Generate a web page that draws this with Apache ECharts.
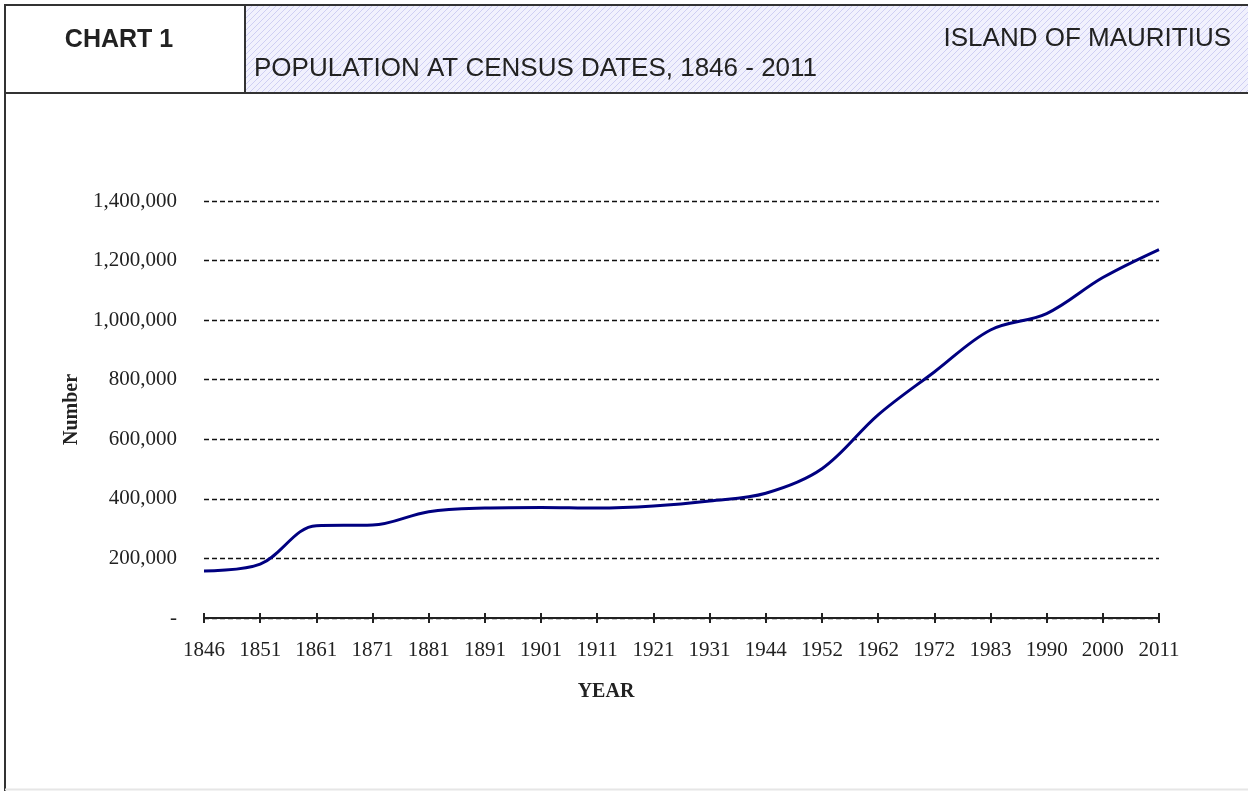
<!DOCTYPE html>
<html>
<head>
<meta charset="utf-8">
<script src="https://cdn.jsdelivr.net/npm/echarts@6/dist/echarts.min.js"></script>
<style>
  html, body { margin: 0; padding: 0; background: #fff; }
  #main { width: 1248px; height: 791px; }
</style>
</head>
<body>
<div id="main"></div>
<script>
// census years and population
var years = ['1846', '1851', '1861', '1871', '1881', '1891', '1901', '1911', '1921',
  '1931', '1944', '1952', '1962', '1972', '1983', '1990', '2000', '2011'];
var population = [158000, 181000, 310000, 312000, 357000, 369000, 371000, 369000, 376000,
  393000, 419000, 501000, 682000, 826000, 967000, 1022000, 1143000, 1237000];

// hatch pattern for the title cell
function makeHatch() {
  var c = document.createElement('canvas');
  c.width = 6; c.height = 6;
  var ctx = c.getContext('2d');
  ctx.fillStyle = '#f1f1fd';
  ctx.fillRect(0, 0, 6, 6);
  ctx.strokeStyle = '#cfcff3';
  ctx.lineWidth = 1;
  ctx.beginPath();
  ctx.moveTo(-1, 7); ctx.lineTo(7, -1);
  ctx.moveTo(-4, 4); ctx.lineTo(4, -4);
  ctx.moveTo(2, 10); ctx.lineTo(10, 2);
  ctx.stroke();
  return c;
}

var chart = echarts.init(document.getElementById('main'), null, { renderer: 'canvas' });

var serif = 'Liberation Serif';

var option = {
  backgroundColor: '#fff',
  animation: false,
  grid: { left: 204, right: 89, top: 201, bottom: 173 },
  xAxis: [{
    type: 'category',
    position: 'bottom',
    data: years,
    boundaryGap: false,
    axisLine: { lineStyle: { color: '#222', width: 2 } },
    axisTick: { show: true, length: 5, lineStyle: { color: '#222', width: 2 } },
    axisLabel: { margin: 22, fontFamily: serif, fontSize: 21, color: '#222' },
    splitLine: { show: false }
  }, {
    // second copy only for the ticks that cross above the axis line
    type: 'category',
    position: 'bottom',
    data: years,
    boundaryGap: false,
    axisLine: { show: false },
    axisTick: { show: true, inside: true, length: 5, lineStyle: { color: '#222', width: 2 } },
    axisLabel: { show: false },
    splitLine: { show: false }
  }],
  yAxis: {
    type: 'value',
    min: 0,
    max: 1400000,
    interval: 200000,
    name: 'Number',
    nameLocation: 'middle',
    nameGap: 122,
    nameRotate: 90,
    nameTextStyle: { fontFamily: serif, fontWeight: 'bold', fontSize: 20, color: '#222' },
    axisLine: { show: false },
    axisTick: { show: false },
    axisLabel: {
      margin: 27,
      fontFamily: serif,
      fontSize: 21,
      color: '#222',
      formatter: function (v) {
        return v === 0 ? '-' : v.toLocaleString('en-US');
      }
    },
    splitLine: { lineStyle: { color: '#111', type: [5, 3], width: 1.3 } }
  },
  series: [{
    type: 'line',
    data: population,
    smooth: 0.35,
    symbol: 'none',
    lineStyle: { color: '#000080', width: 3 }
  }],
  graphic: [
    { type: 'rect', shape: { x: 245, y: 5, width: 1010, height: 88 }, style: { fill: { image: makeHatch(), repeat: 'repeat' } }, z: 0 },
    { type: 'rect', shape: { x: 5, y: 5, width: 1260, height: 88 }, style: { fill: null, stroke: '#333', lineWidth: 2 }, z: 1 },
    { type: 'line', shape: { x1: 245, y1: 5, x2: 245, y2: 93 }, style: { stroke: '#333', lineWidth: 2 }, z: 1 },
    { type: 'line', shape: { x1: 5, y1: 93, x2: 5, y2: 791 }, style: { stroke: '#333', lineWidth: 2 }, z: 1 },
    { type: 'line', shape: { x1: 5, y1: 789.5, x2: 1248, y2: 789.5 }, style: { stroke: '#e6e6e6', lineWidth: 2 }, z: 1 },
    { type: 'text', x: 119, y: 40, style: { text: 'CHART 1', fontFamily: 'Liberation Sans', fontWeight: 'bold', fontSize: 25, fill: '#222', align: 'center', verticalAlign: 'middle' }, z: 2 },
    { type: 'text', x: 1231, y: 39, style: { text: 'ISLAND OF MAURITIUS', fontFamily: 'Liberation Sans', fontSize: 26, fill: '#222', align: 'right', verticalAlign: 'middle' }, z: 2 },
    { type: 'text', x: 254, y: 69, style: { text: 'POPULATION AT CENSUS DATES, 1846 - 2011', fontFamily: 'Liberation Sans', fontSize: 26, fill: '#222', align: 'left', verticalAlign: 'middle' }, z: 2 },
    { type: 'text', x: 606, y: 692, style: { text: 'YEAR', fontFamily: serif, fontWeight: 'bold', fontSize: 20, fill: '#222', align: 'center', verticalAlign: 'middle' }, z: 2 }
  ]
};

chart.setOption(option);
</script>
</body>
</html>
